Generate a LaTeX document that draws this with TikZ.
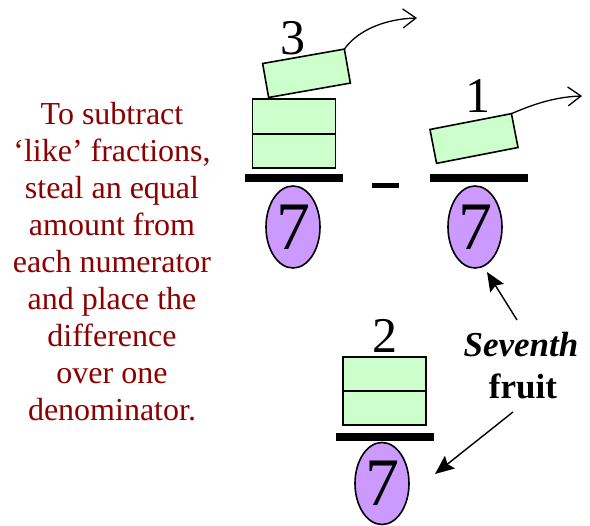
\documentclass[tikz,border=0pt]{standalone}
\usepackage{fontspec}
\setmainfont{Liberation Serif}
\usetikzlibrary{shapes.geometric,arrows.meta}
\definecolor{boxgreen}{HTML}{CCFFCC}
\definecolor{denpurple}{HTML}{CC99FF}
\definecolor{txtred}{RGB}{140,0,0}
\begin{document}
\begin{tikzpicture}[x=1pt,y=-1pt,
  piece/.style={draw=black,line width=1.6pt,fill=boxgreen,minimum width=83pt,minimum height=34.5pt,inner sep=0pt,outer sep=0pt},
  barnode/.style={fill=black,inner sep=0pt,minimum width=98pt,minimum height=8pt},
  den/.style={ellipse,draw=black,line width=1.6pt,fill=denpurple,minimum width=54pt,minimum height=82pt,inner sep=0pt,font=\fontsize{68}{68}\selectfont},
  numer/.style={inner sep=0pt,font=\fontsize{50}{50}\selectfont},
  steal/.style={line width=1.3pt,-{Straight Barb[length=13pt,width=19pt,line width=1.3pt]}},
  pointer/.style={line width=1.4pt,-{Stealth[length=19pt,width=16pt,inset=3pt]}}
]
\useasboundingbox (0,0) rectangle (590,526);

% left text
\node[align=center,text=txtred,font=\fontsize{32}{37}\selectfont,inner sep=0pt] (expl) at (112,262)
 {To subtract\\‘like’ fractions,\\steal an equal\\amount from\\each numerator\\and place the\\difference\\over one\\denominator.};

% left fraction 3/7
\node[numer] (n3) at (293,38) {3};
\node[piece,rotate=10] (tiltL) at (306.5,73.3) {};
\node[piece] (pL1) at (294,116.5) {};
\node[piece] (pL2) at (294,151) {};
\node[barnode] (barL) at (294,178) {};
\node[den] (dL) at (293,227) {7};
\coordinate (endL) at (417,18);
\draw[steal] (tiltL.north east) .. controls (358,30) and (385,19) .. (endL);

% minus
\node[fill=black,inner sep=0pt,minimum width=27pt,minimum height=5.5pt] (minus) at (385.5,185.5) {};

% right fraction 1/7
\node[numer] (n1) at (478,96) {1};
\node[piece,rotate=11] (tiltR) at (474,138.5) {};
\node[barnode] (barR) at (478.5,178) {};
\node[den] (dR) at (475,227) {7};
\coordinate (endR) at (582,96);
\draw[steal] (tiltR.north east) .. controls (525,108) and (550,97) .. (endR);

% result 2/7
\node[numer] (n2) at (385,336) {2};
\node[piece] (pB1) at (384.5,374) {};
\node[piece] (pB2) at (384.5,408) {};
\node[barnode] (barB) at (385,437.5) {};
\node[den] (dB) at (382,483.5) {7};

% label
\node[inner sep=0pt,font=\fontsize{35}{35}\selectfont\bfseries\itshape] (sev) at (521,345) {Seventh};
\node[inner sep=0pt,font=\fontsize{35}{35}\selectfont\bfseries] (fruit) at (523,386) {fruit};
\coordinate (sevtop) at (517,320);
\coordinate (tipR) at (487,272);
\coordinate (fruitbot) at (513,412);
\coordinate (tipB) at (435,474);
\draw[pointer] (sevtop) -- (tipR);
\draw[pointer] (fruitbot) -- (tipB);
\end{tikzpicture}
\end{document}
